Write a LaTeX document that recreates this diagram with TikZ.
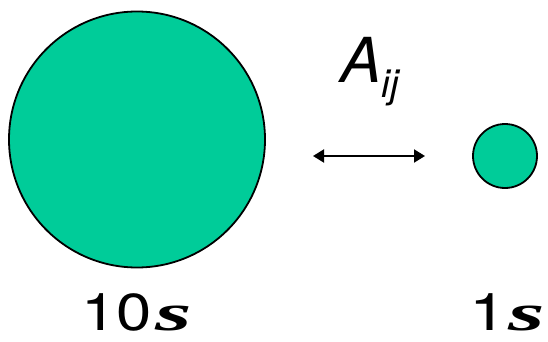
\documentclass[tikz,border=0pt]{standalone}
\usepackage{fontspec}
\setmainfont{TeX Gyre Heros}
\newfontfamily\sfont{Liberation Serif}[BoldItalicFont={Liberation Serif Bold Italic}]
\usetikzlibrary{arrows.meta}
\definecolor{ballgreen}{RGB}{0,204,153}
\begin{document}
\begin{tikzpicture}[x=1pt,y=-1pt,
  ball/.style={circle,draw=black,line width=1.8pt,fill=ballgreen,inner sep=0pt},
  num/.style={anchor=base west,inner sep=0pt,font=\fontsize{52}{52}\selectfont},
  svar/.style={anchor=base west,inner sep=0pt,font=\fontsize{52}{52}\selectfont\sfont\bfseries\itshape}]
\useasboundingbox (0,0) rectangle (548,342);
\node[ball,minimum size=256pt] (big) at (137,139.5) {};
\node[ball,minimum size=64pt] (small) at (505,156) {};
\coordinate (arrL) at (313,156);
\coordinate (arrR) at (425,156);
\draw[line width=2pt,{Triangle[length=11pt,width=13pt]}-{Triangle[length=11pt,width=13pt]}] (arrL) -- (arrR);
\node[anchor=base west,inner sep=0pt] (aij) at (340,83) {\fontsize{62}{62}\selectfont\itshape A\raisebox{-15pt}{\fontsize{39}{39}\selectfont ij}};
\node[num] (bign) at (81,330) {\scalebox{1.22}[1]{10}};
\node[svar] (bigs) at (155,330) {\scalebox{1.8}[1]{s}};
\node[num] (smalln) at (469,330) {\scalebox{1.3}[1]{1}};
\node[svar] (smalls) at (508,330) {\scalebox{1.8}[1]{s}};
\end{tikzpicture}
\end{document}
